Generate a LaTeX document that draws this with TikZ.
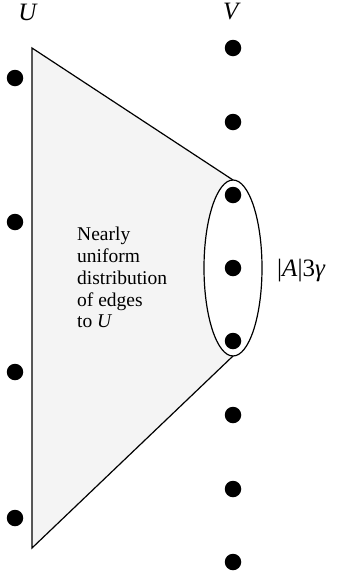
\documentclass[tikz,border=0pt]{standalone}
\usepackage{fontspec}
\setmainfont{Liberation Serif}
\begin{document}
\begin{tikzpicture}[x=1pt,y=-1pt,
  dot/.style={circle,fill=black,inner sep=0pt,minimum size=16.5pt},
  lbl/.style={font=\fontsize{25}{28}\selectfont,inner sep=0pt}]
\useasboundingbox (0,0) rectangle (337,579);
% region
\coordinate (tl) at (32,48);
\coordinate (bl) at (32,548);
\coordinate (tr) at (233,180);
\coordinate (br) at (233,356);
\fill[gray!9] (tl) -- (tr) -- (br) -- (bl) -- cycle;
\fill[white] (233,268) ellipse [x radius=29, y radius=88];
\draw[line width=1.2pt] (tr) -- (tl) -- (bl) -- (br);
\draw[line width=1.2pt] (233,268) ellipse [x radius=29, y radius=88];
% U dots
\node[dot] (u1) at (15,78) {};
\node[dot] (u2) at (15,222) {};
\node[dot] (u3) at (15,372) {};
\node[dot] (u4) at (15,518) {};
% V dots
\foreach \i/\y in {1/48,2/122,3/195,4/268,5/341,6/415,7/489,8/562}
  \node[dot] (v\i) at (233,\y) {};
% labels
\node[lbl] (U) at (28,12) {\textit{U}};
\node[lbl] (V) at (232,12) {\textit{V}};
\node[lbl,anchor=base west] (size) at (277,276) {|\textit{A}|3\textit{γ}};
\node[anchor=north west,inner sep=0pt,align=left,
  font=\fontsize{19.5}{21.8}\selectfont] (txt) at (77,227)
  {Nearly\\uniform\\distribution\\of edges\\to \textit{U}};
\end{tikzpicture}
\end{document}
